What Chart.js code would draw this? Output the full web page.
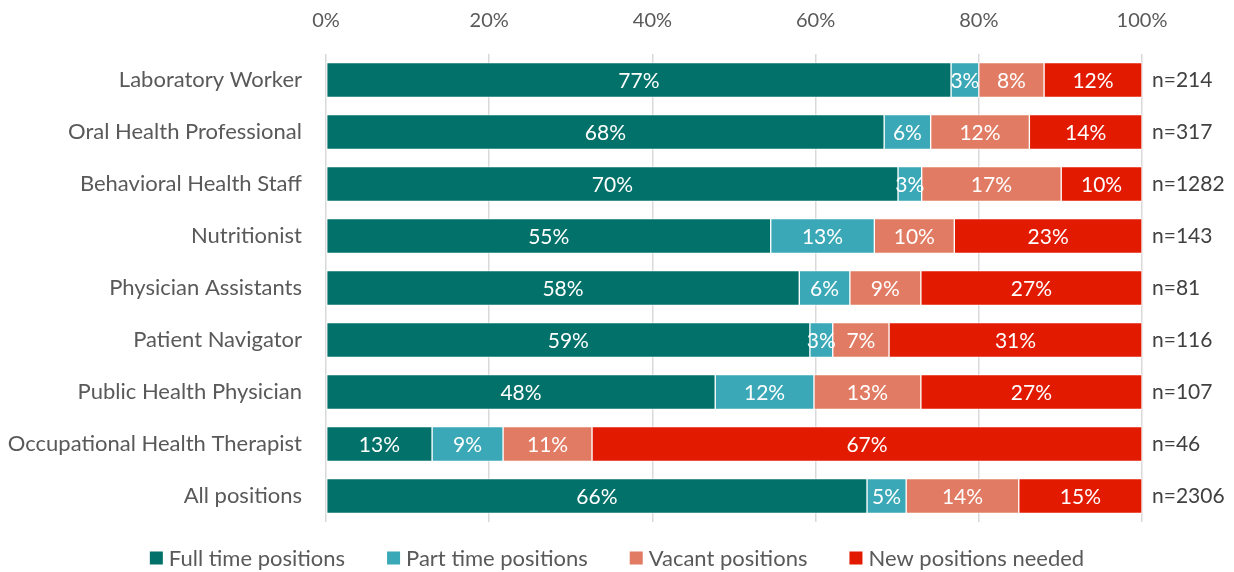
<!DOCTYPE html>
<html>
<head>
<meta charset="utf-8">
<script src="https://cdn.jsdelivr.net/npm/chart.js@4"></script>
<style>
  html, body { margin: 0; padding: 0; background: #fff; }
  #wrap { width: 1234px; height: 572px; }
</style>
</head>
<body>
<div id="wrap"><canvas id="myChart" width="1234" height="572"></canvas></div>
<script>
const categories = ['Laboratory Worker', 'Oral Health Professional', 'Behavioral Health Staff', 'Nutritionist',
  'Physician Assistants', 'Patient Navigator', 'Public Health Physician', 'Occupational Health Therapist', 'All positions'];
const nLabels = ['n=214', 'n=317', 'n=1282', 'n=143', 'n=81', 'n=116', 'n=107', 'n=46', 'n=2306'];
const fullTime = [76.6, 68.4, 70.1, 54.5, 58.0, 59.3, 47.7, 13.0, 66.3];
const partTime = [3.4, 5.7, 2.9, 12.7, 6.2, 2.8, 12.1, 8.7, 4.8];
const vacant = [8.0, 12.1, 17.1, 9.8, 8.7, 6.9, 13.1, 10.9, 13.8];
const newNeeded = [12.0, 13.8, 9.9, 23.0, 27.1, 31.0, 27.1, 67.4, 15.1];
const xTicks = [0, 20, 40, 60, 80, 100];

const FONT = 'Lato, "Open Sans", sans-serif';

// white percentage labels inside each segment
const segmentLabels = {
  id: 'segmentLabels',
  afterDatasetsDraw(chart) {
    const ctx = chart.ctx;
    ctx.save();
    ctx.fillStyle = '#ffffff';
    ctx.font = '21px ' + FONT;
    ctx.textAlign = 'center';
    ctx.textBaseline = 'middle';
    chart.data.datasets.forEach(function(ds, i) {
      const meta = chart.getDatasetMeta(i);
      meta.data.forEach(function(bar, j) {
        const p = bar.getCenterPoint();
        ctx.fillText(Math.round(ds.data[j]) + '%', p.x, p.y + 1);
      });
    });
    ctx.restore();
  }
};

// legend drawn by hand so its spacing can match the original
const bottomLegend = {
  id: 'bottomLegend',
  afterDraw(chart) {
    const ctx = chart.ctx;
    const y = 558;
    const box = 13, gap = 6, spacing = 42;
    ctx.save();
    ctx.font = '22px ' + FONT;
    ctx.textBaseline = 'middle';
    let total = 0;
    const items = chart.data.datasets.map(function(ds) {
      const w = ctx.measureText(ds.label).width;
      total += box + gap + w;
      return { label: ds.label, color: ds.backgroundColor, w: w };
    });
    total += spacing * (items.length - 1);
    let x = (chart.width - total) / 2;
    items.forEach(function(it) {
      ctx.fillStyle = it.color;
      ctx.fillRect(x, y - box / 2, box, box);
      ctx.fillStyle = '#595959';
      ctx.fillText(it.label, x + box + gap, y + 1);
      x += box + gap + it.w + spacing;
    });
    ctx.restore();
  }
};

function makeSet(label, values, color) {
  return {
    label: label,
    data: values,
    backgroundColor: color,
    borderColor: 'rgba(255,255,255,0.7)',
    borderWidth: 1,
    borderSkipped: false,
    barThickness: 35
  };
}

const ctx = document.getElementById('myChart').getContext('2d');
const myChart = new Chart(ctx, {
  type: 'bar',
  data: {
    labels: categories,
    datasets: [
      makeSet('Full time positions', fullTime, '#02716a'),
      makeSet('Part time positions', partTime, '#3aa8b7'),
      makeSet('Vacant positions', vacant, '#e17b63'),
      makeSet('New positions needed', newNeeded, '#e21a00')
    ]
  },
  options: {
    indexAxis: 'y',
    responsive: false,
    animation: false,
    layout: { padding: { top: 0, bottom: 50, left: 0, right: 0 } },
    plugins: {
      tooltip: { enabled: false },
      legend: { display: false }
    },
    scales: {
      x: {
        position: 'top',
        stacked: true,
        min: 0,
        max: 100,
        afterBuildTicks: function(scale) {
          scale.ticks = xTicks.map(function(v) { return { value: v }; });
        },
        afterFit: function(scale) { scale.height = 54; },
        border: { display: false },
        grid: { color: '#d9d9d9', drawTicks: false, lineWidth: 1.5 },
        ticks: {
          padding: 21,
          color: '#595959',
          font: { family: FONT, size: 20 },
          callback: function(v) { return v + '%'; }
        }
      },
      y: {
        stacked: true,
        afterFit: function(scale) { scale.width = 326; },
        border: { display: false },
        grid: { display: false },
        ticks: { padding: 16, color: '#595959', font: { family: FONT, size: 22 } }
      },
      yRight: {
        type: 'category',
        position: 'right',
        labels: nLabels,
        offset: true,
        afterFit: function(scale) { scale.width = 92; },
        border: { display: false },
        grid: { display: false },
        ticks: { padding: 2, color: '#404040', font: { family: FONT, size: 21 } }
      }
    }
  },
  plugins: [segmentLabels, bottomLegend]
});
</script>
</body>
</html>
